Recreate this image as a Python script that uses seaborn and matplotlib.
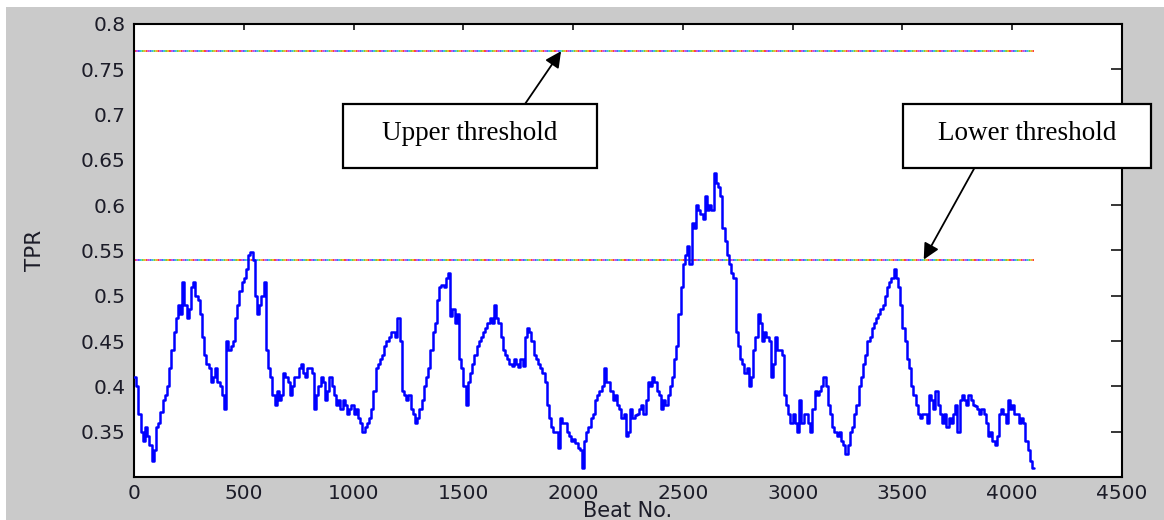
import numpy as np
import pandas as pd
import matplotlib
matplotlib.use("Agg")
import matplotlib.pyplot as plt
from matplotlib.patches import Rectangle
import seaborn as sns

# TPR value for every 10th beat
tpr = [
    0.41, 0.40, 0.37, 0.35, 0.34, 0.355, 0.345, 0.335, 0.318, 0.33,
    0.355, 0.36, 0.372, 0.385, 0.39, 0.40, 0.42, 0.44, 0.46, 0.475,
    0.49, 0.48, 0.515, 0.49, 0.475, 0.485, 0.51, 0.515, 0.50, 0.495,
    0.48, 0.455, 0.435, 0.425, 0.42, 0.405, 0.41, 0.42, 0.405, 0.40,
    0.39, 0.375, 0.45, 0.44, 0.445, 0.45, 0.475, 0.49, 0.505, 0.515,
    0.52, 0.53, 0.545, 0.548, 0.54, 0.50, 0.48, 0.49, 0.50, 0.515,
    0.44, 0.42, 0.41, 0.39, 0.38, 0.395, 0.385, 0.39, 0.415, 0.41,
    0.405, 0.39, 0.40, 0.41, 0.41, 0.42, 0.425, 0.415, 0.41, 0.42,
    0.42, 0.415, 0.375, 0.39, 0.40, 0.41, 0.405, 0.385, 0.395, 0.41,
    0.40, 0.39, 0.38, 0.385, 0.375, 0.385, 0.38, 0.37, 0.375, 0.38,
    0.37, 0.375, 0.365, 0.36, 0.35, 0.355, 0.36, 0.365, 0.375, 0.395,
    0.42, 0.425, 0.43, 0.435, 0.445, 0.45, 0.455, 0.46, 0.46, 0.455,
    0.475, 0.45, 0.395, 0.39, 0.385, 0.39, 0.375, 0.37, 0.36, 0.365,
    0.375, 0.385, 0.40, 0.41, 0.42, 0.44, 0.46, 0.47, 0.495, 0.51,
    0.512, 0.51, 0.52, 0.525, 0.478, 0.485, 0.47, 0.48, 0.43, 0.42,
    0.40, 0.38, 0.405, 0.415, 0.425, 0.435, 0.445, 0.45, 0.455, 0.46,
    0.465, 0.47, 0.475, 0.47, 0.49, 0.475, 0.47, 0.455, 0.44, 0.435,
    0.43, 0.425, 0.422, 0.43, 0.425, 0.421, 0.43, 0.422, 0.455, 0.465,
    0.46, 0.45, 0.435, 0.43, 0.425, 0.42, 0.415, 0.405, 0.38, 0.365,
    0.355, 0.35, 0.35, 0.332, 0.365, 0.36, 0.36, 0.35, 0.345, 0.34,
    0.342, 0.338, 0.332, 0.33, 0.31, 0.34, 0.35, 0.355, 0.365, 0.37,
    0.385, 0.39, 0.395, 0.40, 0.42, 0.405, 0.405, 0.395, 0.385, 0.39,
    0.38, 0.375, 0.365, 0.37, 0.345, 0.35, 0.375, 0.365, 0.368, 0.37,
    0.375, 0.38, 0.37, 0.385, 0.405, 0.40, 0.41, 0.405, 0.395, 0.39,
    0.375, 0.385, 0.38, 0.39, 0.40, 0.41, 0.43, 0.445, 0.48, 0.51,
    0.535, 0.545, 0.555, 0.535, 0.58, 0.575, 0.60, 0.595, 0.59, 0.585,
    0.61, 0.595, 0.60, 0.595, 0.635, 0.625, 0.62, 0.61, 0.575, 0.56,
    0.545, 0.535, 0.525, 0.52, 0.46, 0.445, 0.43, 0.425, 0.415, 0.42,
    0.40, 0.41, 0.44, 0.455, 0.48, 0.47, 0.45, 0.46, 0.455, 0.45,
    0.41, 0.425, 0.455, 0.44, 0.44, 0.435, 0.39, 0.38, 0.37, 0.36,
    0.37, 0.36, 0.35, 0.385, 0.36, 0.37, 0.37, 0.36, 0.35, 0.375,
    0.395, 0.39, 0.395, 0.40, 0.41, 0.40, 0.38, 0.37, 0.355, 0.35,
    0.345, 0.35, 0.34, 0.335, 0.325, 0.335, 0.35, 0.355, 0.37, 0.38,
    0.40, 0.41, 0.425, 0.435, 0.45, 0.455, 0.465, 0.47, 0.475, 0.48,
    0.485, 0.49, 0.50, 0.51, 0.515, 0.52, 0.53, 0.52, 0.51, 0.49,
    0.465, 0.45, 0.43, 0.42, 0.40, 0.39, 0.38, 0.37, 0.365, 0.37,
    0.37, 0.36, 0.39, 0.385, 0.375, 0.395, 0.38, 0.37, 0.36, 0.37,
    0.355, 0.365, 0.36, 0.37, 0.38, 0.35, 0.385, 0.39, 0.385, 0.38,
    0.39, 0.385, 0.38, 0.378, 0.375, 0.37, 0.375, 0.37, 0.36, 0.345,
    0.35, 0.34, 0.335, 0.345, 0.37, 0.375, 0.37, 0.36, 0.385, 0.375,
    0.38, 0.37, 0.37, 0.36, 0.365, 0.36, 0.34, 0.33, 0.318, 0.31,
    0.31,
]
beat_step = 10

upper_threshold = 0.77
lower_threshold = 0.54

x_ticks = [0, 500, 1000, 1500, 2000, 2500, 3000, 3500, 4000, 4500]
x_tick_labels = ["0", "500", "1000", "1500", "2000", "2500", "3000", "3500", "4000", "4500"]
y_ticks = [0.35, 0.4, 0.45, 0.5, 0.55, 0.6, 0.65, 0.7, 0.75, 0.8]
y_tick_labels = ["0.35", "0.4", "0.45", "0.5", "0.55", "0.6", "0.65", "0.7", "0.75", "0.8"]

x_label = "Beat No."
y_label = "TPR"
upper_note = "Upper threshold"
lower_note = "Lower threshold"

# ---------------------------------------------------------------------------
sns.set_style("white")
plt.rcParams["font.family"] = ["DejaVu Sans"]
plt.rcParams["lines.scale_dashes"] = False

W, H = 1164, 520
fig = plt.figure(figsize=(W / 100, H / 100), dpi=100, facecolor="white")

# grey window background
fig.patches.append(Rectangle((6 / W, 0), 1, (H - 7) / H, transform=fig.transFigure,
                             facecolor="#cacaca", edgecolor="none", zorder=-10))

ax = fig.add_axes([134 / W, (H - 477) / H, (1122 - 134) / W, (477 - 24) / H])
ax.set_facecolor("white")

df = pd.DataFrame({"beat": np.arange(len(tpr)) * beat_step, "tpr": tpr})
sns.lineplot(data=df, x="beat", y="tpr", ax=ax, color="#0000ff", lw=1.8,
             drawstyle="steps-post", estimator=None, sort=False, zorder=3)

# multi-coloured dotted threshold lines
x_end = df["beat"].iloc[-1]
dot_colors = ["#ff3b3b", "#f2b21c", "#7ccf2e", "#2ec9d6", "#4a62ff", "#c447e8"]
for thr in (upper_threshold, lower_threshold):
    for i, c in enumerate(dot_colors):
        ax.plot([0, x_end], [thr, thr], color=c, lw=1.4,
                linestyle=(i * 1.4, (1.4, 7.0)), dash_capstyle="butt", zorder=2)

ax.set_xlim(0, 4500)
ax.set_ylim(0.3, 0.8)
ax.set_xticks(x_ticks)
ax.set_xticklabels(x_tick_labels)
ax.set_yticks(y_ticks)
ax.set_yticklabels(y_tick_labels)

for s in ax.spines.values():
    s.set_visible(True)
    s.set_color("black")
    s.set_linewidth(1.5)

ax.tick_params(direction="in", top=True, right=True, colors="black",
               labelcolor="#1c1c28", labelsize=14.5, width=1.1)
ax.tick_params(axis="y", length=8, pad=6)
ax.tick_params(axis="x", length=4.5, pad=5)

ax.set_xlabel(x_label, fontsize=15, color="#1c1c28")
ax.set_ylabel(y_label, fontsize=15.5, color="#1c1c28")
ax.xaxis.set_label_coords(0.5, -0.054)
ax.yaxis.set_label_coords(-0.09, 0.5)


# annotation boxes (image-pixel geometry, origin top-left)
def note(x0, y0, x1, y1, text, baseline):
    fig.add_artist(Rectangle((x0 / W, 1 - y1 / H), (x1 - x0) / W, (y1 - y0) / H,
                             transform=fig.transFigure, facecolor="white",
                             edgecolor="black", lw=1.6, zorder=5))
    fig.text((x0 + x1) / 2 / W, 1 - baseline / H, text, ha="center", va="baseline",
             family="Liberation Serif", fontsize=19.5, color="black", zorder=6)


note(343, 104, 597, 168, upper_note, 140)
note(903, 104, 1151, 168, lower_note, 140)

arrow_kw = dict(arrowstyle="-|>", color="black", lw=1.3, mutation_scale=24,
                shrinkA=0, shrinkB=0)
ax.annotate("", xy=(1945, upper_threshold), xycoords="data",
            xytext=(525 / W, 1 - 104 / H), textcoords="figure fraction",
            arrowprops=arrow_kw, annotation_clip=False, zorder=4)
ax.annotate("", xy=(3597, lower_threshold), xycoords="data",
            xytext=(975 / W, 1 - 167 / H), textcoords="figure fraction",
            arrowprops=arrow_kw, annotation_clip=False, zorder=4)

fig.savefig("out.png", dpi=100, facecolor=fig.get_facecolor())
